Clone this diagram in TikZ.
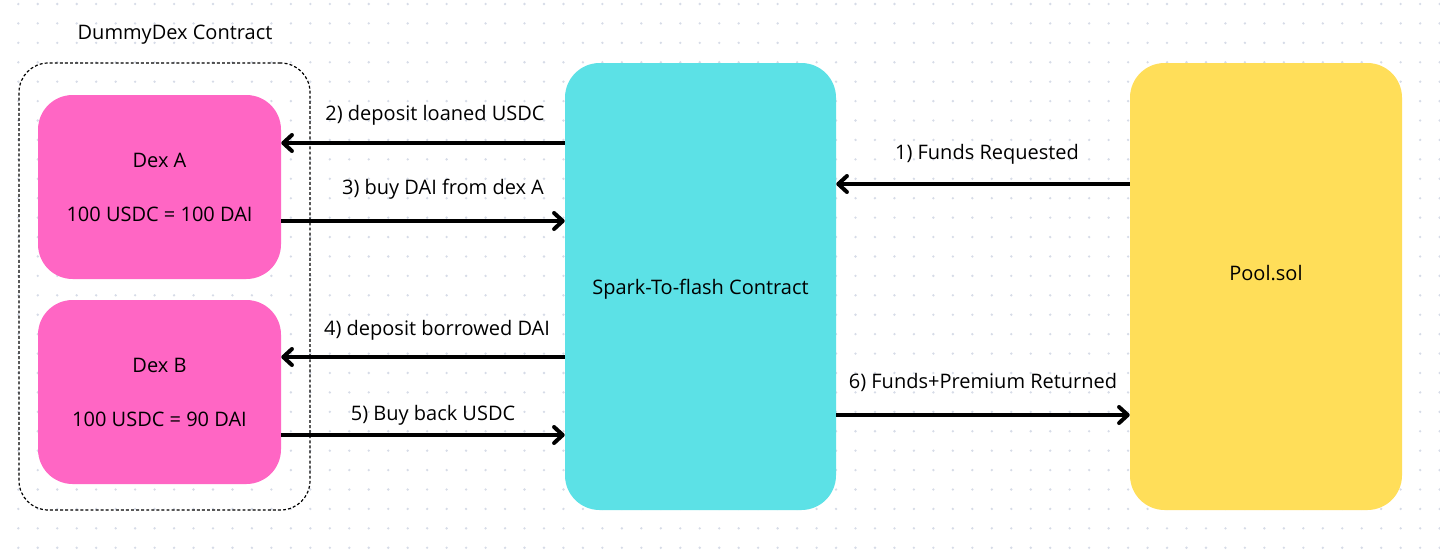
\documentclass[tikz,border=0pt]{standalone}
\usepackage{fontspec}
\setmainfont{Open Sans}
\usetikzlibrary{arrows.meta}
\definecolor{dexpink}{HTML}{FF66C4}
\definecolor{sparkcyan}{HTML}{5CE1E6}
\definecolor{poolyellow}{HTML}{FFDE59}
\definecolor{griddot}{HTML}{D6DBE7}
\begin{document}
\begin{tikzpicture}[x=0.75pt,y=-0.75pt,
  every node/.style={font=\fontsize{15}{18}\selectfont, text=black},
  block/.style={rounded corners=26pt, inner sep=0pt, align=center},
  arr/.style={line width=3pt, -{Straight Barb[length=6.5pt,width=12pt,line cap=round,line join=round]}},
  lbl/.style={inner sep=0pt, anchor=center}
]
\useasboundingbox (0,0) rectangle (1440,551);
\fill[white] (0,0) rectangle (1440,551);
% dotted grid
\foreach \i in {0,...,73}{
  \foreach \j in {0,...,28}{
    \fill[griddot] (18.3+19.47*\i, 4+19.42*\j) circle (1.3);
  }
}
% dashed container
\node[draw=black, dash pattern=on 2.2pt off 1.6pt, line width=0.9pt, rounded corners=22pt, minimum width=291*0.75pt, minimum height=447*0.75pt, inner sep=0pt] (dummydex) at (164.5,286.5) {};
\node[lbl] (title) at (175,34.5) {DummyDex Contract};
% blocks
\node[block, fill=dexpink, minimum width=243*0.75pt, minimum height=184*0.75pt] (dexA) at (159.5,187) {Dex A\\[22.5pt]100 USDC = 100 DAI};
\node[block, fill=dexpink, minimum width=243*0.75pt, minimum height=184*0.75pt] (dexB) at (159.5,392) {Dex B\\[22.5pt]100 USDC = 90 DAI};
\node[block, fill=sparkcyan, minimum width=271*0.75pt, minimum height=447*0.75pt,
  label={[lbl, yshift=-2.2pt]center:Spark-To-flash Contract}] (spark) at (700.5,286.5) {};
\node[block, fill=poolyellow, minimum width=272*0.75pt, minimum height=447*0.75pt,
  label={[lbl, yshift=10pt]center:Pool.sol}] (pool) at (1266,286.5) {};
% arrows
\draw[arr] (spark.west |- 0,143) -- (dexA.east |- 0,143);
\draw[arr] (dexA.east |- 0,221) -- (spark.west |- 0,221);
\draw[arr] (spark.west |- 0,357) -- (dexB.east |- 0,357);
\draw[arr] (dexB.east |- 0,435) -- (spark.west |- 0,435);
\draw[arr] (pool.west |- 0,184) -- (spark.east |- 0,184);
\draw[arr] (spark.east |- 0,415) -- (pool.west |- 0,415);
% arrow labels
\node[lbl] (l2) at (435,115) {2) deposit loaned USDC};
\node[lbl] (l3) at (443,189) {3) buy DAI from dex A};
\node[lbl] (l4) at (437,330) {4) deposit borrowed DAI};
\node[lbl] (l5) at (433,415) {5) Buy back USDC};
\node[lbl] (l1) at (987,154) {1) Funds Requested};
\node[lbl] (l6) at (983,382) {6) Funds+Premium Returned};
\end{tikzpicture}
\end{document}
